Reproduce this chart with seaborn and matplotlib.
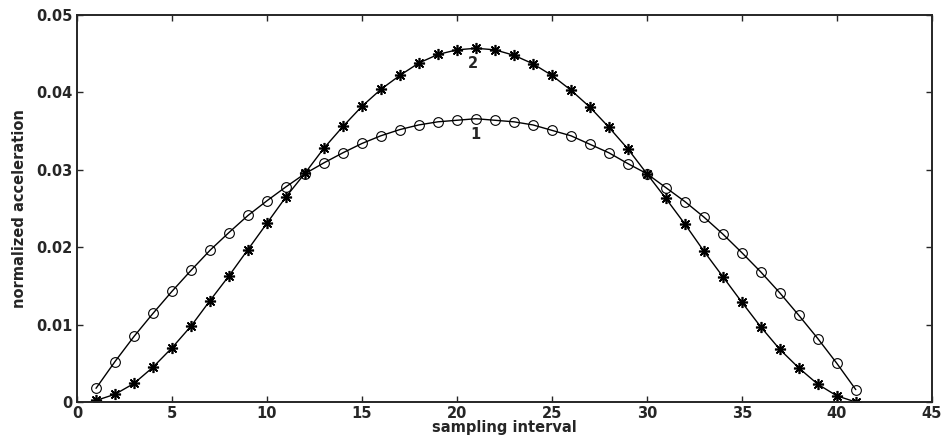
import numpy as np
import pandas as pd
import matplotlib
matplotlib.use("Agg")
import matplotlib.pyplot as plt
import seaborn as sns

# --- dados ---
intervalo = list(range(1, 42))

curva_1 = [0.00177, 0.00523, 0.00847, 0.01145, 0.0143, 0.0170, 0.0196, 0.0219, 0.0241, 0.0260,
           0.0278, 0.0295, 0.0309, 0.0322, 0.0334, 0.0344, 0.0352, 0.0358, 0.0362, 0.0364,
           0.0366, 0.0364, 0.0362, 0.0358, 0.0351, 0.0344, 0.0333, 0.0322, 0.0308, 0.0295,
           0.0277, 0.0259, 0.0239, 0.0217, 0.0193, 0.0168, 0.0141, 0.0112, 0.0082, 0.0050,
           0.0016]

curva_2 = [0.0002, 0.0010, 0.0024, 0.0045, 0.0070, 0.0098, 0.0131, 0.0163, 0.0197, 0.0231,
           0.0265, 0.02955, 0.0328, 0.0356, 0.0382, 0.0404, 0.0422, 0.0438, 0.0449, 0.0455,
           0.0457, 0.0455, 0.0448, 0.0437, 0.0422, 0.0403, 0.0381, 0.0355, 0.0327, 0.0295,
           0.0263, 0.0230, 0.0195, 0.0162, 0.0129, 0.0097, 0.0068, 0.0044, 0.0023, 0.0008,
           0.0000]

dados = pd.DataFrame({'intervalo': intervalo, 'curva_1': curva_1, 'curva_2': curva_2})

sns.set_theme(style="ticks")
plt.rcParams['font.family'] = ['DejaVu Sans']
plt.rcParams['font.weight'] = 'bold'

fig = plt.figure(figsize=(9.45, 4.41), dpi=100)
ax = fig.add_axes([0.0815, 0.0884, 0.9045, 0.8776])

sns.lineplot(x='intervalo', y='curva_1', data=dados, ax=ax, color='black', linewidth=1.0,
             marker='o', markersize=7, markerfacecolor='none', markeredgecolor='black',
             markeredgewidth=0.8)
sns.lineplot(x='intervalo', y='curva_2', data=dados, ax=ax, color='black', linewidth=1.0,
             marker=(8, 2, 0), markersize=8, markeredgecolor='black', markeredgewidth=1.2)

ax.text(21, 0.0346, '1', ha='center', va='center', fontsize=10.5, fontweight='bold')
ax.text(20.85, 0.0437, '2', ha='center', va='center', fontsize=10.5, fontweight='bold')

ax.set_xlim(0, 45)
ax.set_ylim(0, 0.05)
ax.set_xticks(range(0, 46, 5))
ax.set_yticks([0, 0.01, 0.02, 0.03, 0.04, 0.05])
ax.set_yticklabels(['0', '0.01', '0.02', '0.03', '0.04', '0.05'])
ax.tick_params(direction='in', top=True, right=True, length=4, width=1,
               labelsize=10.5, pad=3)
for lbl in ax.get_xticklabels() + ax.get_yticklabels():
    lbl.set_fontweight('bold')
for s in ax.spines.values():
    s.set_linewidth(1.4)
    s.set_visible(True)

ax.set_xlabel('sampling interval', fontsize=10.5, fontweight='bold', labelpad=-1)
ax.set_ylabel('normalized acceleration', fontsize=10.5, fontweight='bold', labelpad=7)

plt.savefig('out.png', dpi=100)
